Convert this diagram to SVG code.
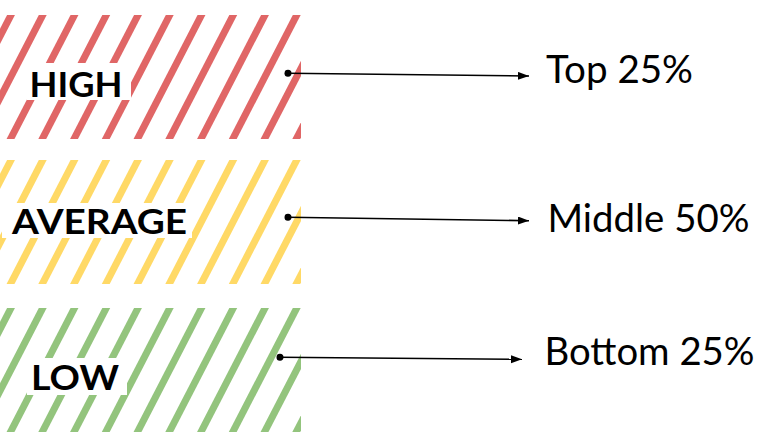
<svg xmlns="http://www.w3.org/2000/svg" xmlns:xlink="http://www.w3.org/1999/xlink" width="768" height="432" viewBox="0 0 768 432">
  <style>
    .stripe line { stroke-width: 7; }
    .lbl { font-family: Lato, "Liberation Sans", sans-serif; font-weight: 700; font-size: 35px; fill: #000; }
    .txt { font-family: Lato, "Liberation Sans", sans-serif; font-weight: 400; font-size: 38px; fill: #000; }
    .box { fill: #fff; }
    .conn { stroke: #000; stroke-width: 1.6; fill: none; marker-start: url(#dot); marker-end: url(#arrow); }
  </style>
  <defs>
    <clipPath id="bandClip">
      <rect x="0" y="0" width="301" height="124"/>
    </clipPath>
    <marker id="arrow" markerUnits="userSpaceOnUse" markerWidth="12" markerHeight="10" refX="11" refY="4" orient="auto">
      <path d="M0,0 L11,4 L0,8 z" fill="#000"/>
    </marker>
    <marker id="dot" markerUnits="userSpaceOnUse" markerWidth="8" markerHeight="8" refX="4" refY="4" orient="auto">
      <circle cx="4" cy="4" r="3.5" fill="#000"/>
    </marker>
    <g id="stripes" class="stripe" clip-path="url(#bandClip)">
      <line x1="17.4" y1="-12.4" x2="-59.4" y2="136.4"/>
      <line x1="49.15" y1="-12.4" x2="-27.65" y2="136.4"/>
      <line x1="80.9" y1="-12.4" x2="4.1" y2="136.4"/>
      <line x1="112.65" y1="-12.4" x2="35.85" y2="136.4"/>
      <line x1="144.4" y1="-12.4" x2="67.6" y2="136.4"/>
      <line x1="176.15" y1="-12.4" x2="99.35" y2="136.4"/>
      <line x1="207.9" y1="-12.4" x2="131.1" y2="136.4"/>
      <line x1="239.65" y1="-12.4" x2="162.85" y2="136.4"/>
      <line x1="271.4" y1="-12.4" x2="194.6" y2="136.4"/>
      <line x1="303.15" y1="-12.4" x2="226.35" y2="136.4"/>
      <line x1="334.9" y1="-12.4" x2="258.1" y2="136.4"/>
      <line x1="366.65" y1="-12.4" x2="289.85" y2="136.4"/>
    </g>
  </defs>

  <rect width="768" height="432" fill="#fff"/>

  <g id="node-high">
    <use xlink:href="#stripes" href="#stripes" x="0" y="15" stroke="#e06666"/>
    <rect class="box" x="27" y="63" width="104" height="37"/>
    <text class="lbl" x="29.5" y="97" textLength="93" lengthAdjust="spacingAndGlyphs">HIGH</text>
  </g>

  <g id="node-average">
    <use xlink:href="#stripes" href="#stripes" x="0" y="160" stroke="#ffd966"/>
    <rect class="box" x="2" y="203" width="190" height="35"/>
    <text class="lbl" x="12" y="233.5" textLength="175" lengthAdjust="spacingAndGlyphs">AVERAGE</text>
  </g>

  <g id="node-low">
    <use xlink:href="#stripes" href="#stripes" x="0" y="308" stroke="#93c47d"/>
    <rect class="box" x="27" y="358" width="100" height="37"/>
    <text class="lbl" x="31" y="390" textLength="88" lengthAdjust="spacingAndGlyphs">LOW</text>
  </g>

  <g id="node-top">
    <text class="txt" x="546" y="83" textLength="147" lengthAdjust="spacingAndGlyphs">Top 25%</text>
  </g>
  <g id="node-middle">
    <text class="txt" x="547.5" y="232" textLength="202" lengthAdjust="spacingAndGlyphs">Middle 50%</text>
  </g>
  <g id="node-bottom">
    <text class="txt" x="544.5" y="365" textLength="210" lengthAdjust="spacingAndGlyphs">Bottom 25%</text>
  </g>

  <g id="connectors">
    <line class="conn" x1="288" y1="73.3" x2="529" y2="76"/>
    <line class="conn" x1="288" y1="217.3" x2="529" y2="220.7"/>
    <line class="conn" x1="280" y1="357.3" x2="522" y2="359.3"/>
  </g>
</svg>
